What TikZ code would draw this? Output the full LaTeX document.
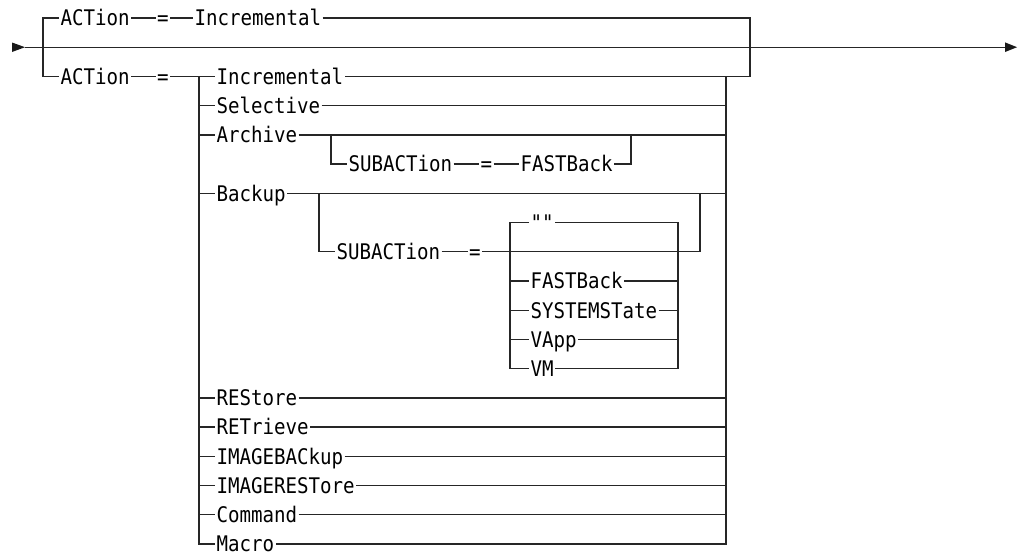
\documentclass[tikz,border=0pt]{standalone}
\usepackage{fontspec}
\newfontfamily\diagfont[FakeStretch=0.89]{DejaVu Sans Mono}
\usetikzlibrary{calc}
\begin{document}
\begin{tikzpicture}[x=1pt,y=-1pt,
  kw/.style={font=\diagfont\fontsize{21.5pt}{22pt}\selectfont, anchor=west, inner sep=0pt, outer sep=1.5pt, text height=15.6pt, text depth=0pt},
  ln/.style={line width=1.3pt, draw=black!85},
  tip/.style={fill=black!90}]
\useasboundingbox (0,0) rectangle (1024,552);
% rows
\def\rA{18}\def\rB{47.2}\def\rC{76.4}\def\rD{105.7}\def\rE{134.9}\def\rF{164.1}
\def\rG{193.3}\def\rH{222.5}\def\rI{251.8}\def\rJ{281}\def\rK{310.2}\def\rL{339.4}
\def\rM{368.6}\def\rN{397.9}\def\rO{427.1}\def\rP{456.3}\def\rQ{485.5}\def\rR{514.7}\def\rS{544}
% main line
\coordinate (start) at (25,\rB);
\coordinate (end) at (1005,\rB);
\fill[tip] (12,42.5) -- (start) -- (12,52) -- cycle;
\draw[ln] (start) -- (end);
\fill[tip] (end) ++(0,-4.8) -- ++(12,4.8) -- ++(-12,4.8) -- cycle;
% row 0
\node[kw] (a0) at (59,\rA) {ACTion};
\node[kw] (e0) at (155.5,\rA) {=};
\node[kw] (i0) at (193,\rA) {Incremental};
% row 2
\node[kw] (a2) at (59,\rC) {ACTion};
\node[kw] (e2) at (155.5,\rC) {=};
\node[kw] (i2) at (215,\rC) {Incremental};
\draw[ln] (a0.west) -| (43,\rC) -- (a2.west);
\draw[ln] (a0.east) -- (e0.west);
\draw[ln] (e0.east) -- (i0.west);
\draw[ln] (i0.east) -| (750,\rC) -- (i2.east);
\draw[ln] (a2.east) -- (e2.west);
\draw[ln] (e2.east) -- (i2.west);
% main choice
\node[kw] (sel) at (215,\rD) {Selective};
\node[kw] (arc) at (215,\rE) {Archive};
\node[kw] (bak) at (215,\rG) {Backup};
\node[kw] (res) at (215,\rN) {REStore};
\node[kw] (ret) at (215,\rO) {RETrieve};
\node[kw] (ibk) at (215,\rP) {IMAGEBACkup};
\node[kw] (irs) at (215,\rQ) {IMAGERESTore};
\node[kw] (cmd) at (215,\rR) {Command};
\node[kw] (mac) at (215,\rS) {Macro};
\draw[ln] (199,\rC) -- (199,\rS) -- (mac.west);
\draw[ln] (726,\rC) -- (726,\rS) -- (mac.east);
\foreach \n in {sel,arc,bak,res,ret,ibk,irs,cmd}{
  \draw[ln] (\n.west -| 199,0) -- (\n.west);
  \draw[ln] (\n.east) -- (\n.east -| 726,0);
}
% archive sub
\node[kw] (sa) at (347,\rF) {SUBACTion};
\node[kw] (sae) at (479,\rF) {=};
\node[kw] (sfb) at (519,\rF) {FASTBack};
\draw[ln] (331,\rE) -- (331,\rF) -- (sa.west);
\draw[ln] (sa.east) -- (sae.west);
\draw[ln] (sae.east) -- (sfb.west);
\draw[ln] (sfb.east) -| (631,\rE);
% backup sub
\node[kw] (sb) at (335,\rI) {SUBACTion};
\node[kw] (sbe) at (467.5,\rI) {=};
\draw[ln] (319,\rG) -- (319,\rI) -- (sb.west);
\draw[ln] (sb.east) -- (sbe.west);
\draw[ln] (sbe.east) -| (700,\rG);
% inner choice
\node[kw] (q) at (529,\rH) {""};
\node[kw] (fb) at (529,\rJ) {FASTBack};
\node[kw] (ss) at (529,\rK) {SYSTEMSTate};
\node[kw] (va) at (529,\rL) {VApp};
\node[kw] (vm) at (529,\rM) {VM};
\draw[ln] (q.west) -| (510,\rM) -- (vm.west);
\draw[ln] (q.east) -| (678,\rM) -- (vm.east);
\foreach \n in {fb,ss,va}{
  \draw[ln] (\n.west -| 510,0) -- (\n.west);
  \draw[ln] (\n.east) -- (\n.east -| 678,0);
}
\end{tikzpicture}
\end{document}
